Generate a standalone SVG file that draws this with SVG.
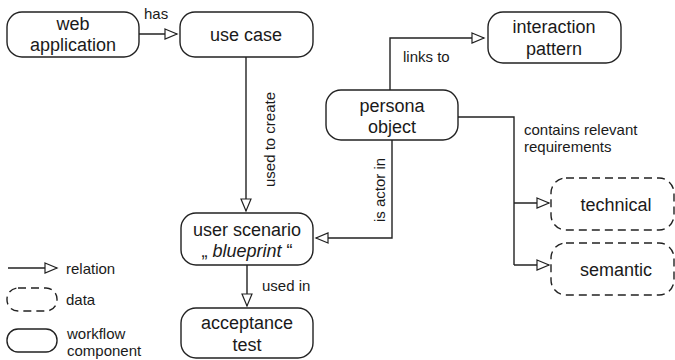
<svg xmlns="http://www.w3.org/2000/svg" width="675" height="360" viewBox="0 0 675 360">
<defs>
<marker id="arr" markerUnits="userSpaceOnUse" markerWidth="16" markerHeight="12" refX="13" refY="6" orient="auto">
<path d="M1,1 L13,6 L1,11 Z" fill="#fff" stroke="#222" stroke-width="1.2"/>
</marker>
<style>
.node{fill:#fff;stroke:#222;stroke-width:1.4}
.data{fill:#fff;stroke:#222;stroke-width:1.4;stroke-dasharray:8 5}
.t{font-family:"Liberation Sans",Arial,sans-serif;font-size:18px;fill:#1a1a1a;text-anchor:middle}
.l{font-family:"Liberation Sans",Arial,sans-serif;font-size:15px;fill:#1a1a1a}
.c{fill:none;stroke:#222;stroke-width:1.4}
</style>
</defs>
<rect width="675" height="360" fill="#fff"/>
<g id="connectors">
<path class="c" d="M139,34 H177" marker-end="url(#arr)"/>
<path class="c" d="M246,57 V211" marker-end="url(#arr)"/>
<path class="c" d="M390,90 V38 H484" marker-end="url(#arr)"/>
<path class="c" d="M392,140 V238 H316" marker-end="url(#arr)"/>
<path class="c" d="M458,117 H514 V265"/>
<path class="c" d="M514,203 H549" marker-end="url(#arr)"/>
<path class="c" d="M514,265 H549" marker-end="url(#arr)"/>
<path class="c" d="M247,265 V306" marker-end="url(#arr)"/>
<text class="l" x="144" y="19">has</text>
<text class="l" x="403" y="62">links to</text>
<text class="l" x="524" y="135">contains relevant</text>
<text class="l" x="524" y="152">requirements</text>
<text class="l" x="262" y="291">used in</text>
<text class="l" transform="translate(275,187) rotate(-90)">used to create</text>
<text class="l" transform="translate(385,222) rotate(-90)">is actor in</text>
</g>
<g id="web-application">
<rect class="node" x="7" y="12" width="132" height="45" rx="15"/>
<text class="t" x="73" y="30">web</text>
<text class="t" x="73" y="51">application</text>
</g>
<g id="use-case">
<rect class="node" x="180" y="12" width="133" height="45" rx="15"/>
<text class="t" x="246" y="41">use case</text>
</g>
<g id="interaction-pattern">
<rect class="node" x="488" y="12" width="133" height="51" rx="15"/>
<text class="t" x="554" y="33">interaction</text>
<text class="t" x="554" y="55">pattern</text>
</g>
<g id="persona-object">
<rect class="node" x="326" y="90" width="132" height="50" rx="15"/>
<text class="t" x="392" y="112">persona</text>
<text class="t" x="392" y="133">object</text>
</g>
<g id="user-scenario">
<rect class="node" x="181" y="213" width="132" height="52" rx="15"/>
<text class="t" x="247" y="236">user scenario</text>
<text class="t" x="247" y="257">„ <tspan font-style="italic">blueprint</tspan> “</text>
</g>
<g id="acceptance-test">
<rect class="node" x="181" y="308" width="132" height="50" rx="15"/>
<text class="t" x="247" y="329">acceptance</text>
<text class="t" x="247" y="351">test</text>
</g>
<g id="technical">
<rect class="data" x="551" y="178" width="123" height="52" rx="15"/>
<text class="t" x="616" y="211">technical</text>
</g>
<g id="semantic">
<rect class="data" x="551" y="243" width="123" height="52" rx="15"/>
<text class="t" x="616" y="276">semantic</text>
</g>
<g id="legend">
<path class="c" d="M8,268 H57" marker-end="url(#arr)"/>
<text class="l" x="66" y="274">relation</text>
<rect class="data" x="7" y="288" width="50" height="23" rx="11"/>
<text class="l" x="66" y="305">data</text>
<rect class="node" x="7" y="329" width="50" height="23" rx="11"/>
<text class="l" x="67" y="339">workflow</text>
<text class="l" x="67" y="356">component</text>
</g>
</svg>
